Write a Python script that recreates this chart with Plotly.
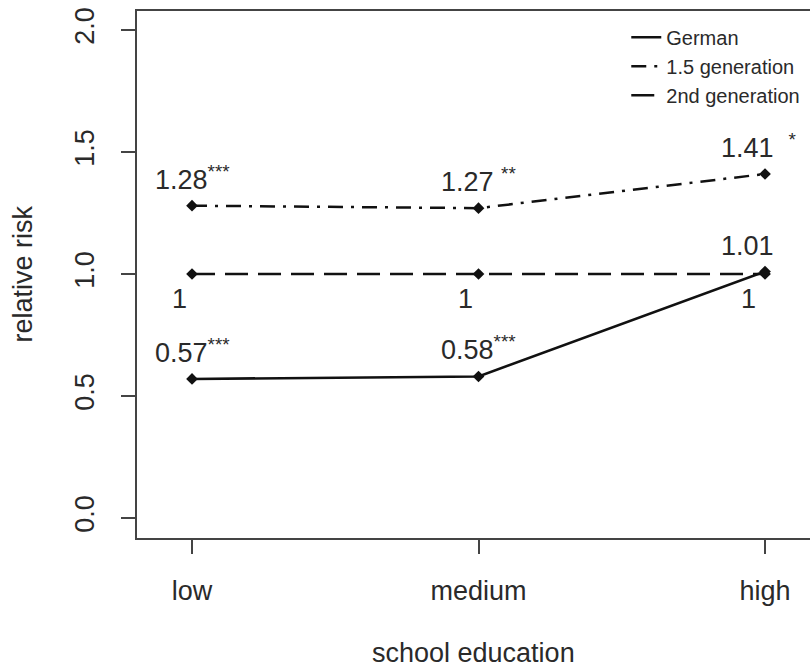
import plotly.graph_objects as go

# ---- data ----
categories = ["low", "medium", "high"]
x_pos = [1, 2, 3]
german = [0.57, 0.58, 1.01]
gen15 = [1.28, 1.27, 1.41]
gen2 = [1.0, 1.0, 1.0]
german_labels = ["0.57<sup>***</sup>", "0.58<sup>***</sup>", "1.01"]
gen15_labels = ["1.28<sup>***</sup>", "1.27 <sup>**</sup>", "1.41&nbsp;&nbsp;<sup>*</sup>"]
gen2_labels = ["1", "1", "1"]
y_ticks = [0.0, 0.5, 1.0, 1.5, 2.0]
series_names = ["German", "1.5 generation", "2nd generation"]

# ---- styles ----
FONT = "Liberation Sans, Arial, Helvetica, sans-serif"
TXT = "#2a2a2a"
AX = "#444444"
LINE = "#111111"
FS = 27
dashes = ["solid", "15px,8px,3px,8px", "23px,10px"]
label_xshift_high = {"1.01": -18, "1.41&nbsp;&nbsp;<sup>*</sup>": -6}

fig = go.Figure()
for name, vals, dash in zip(series_names, [german, gen15, gen2], dashes):
    fig.add_trace(go.Scatter(
        x=x_pos, y=vals, name=name, mode="lines",
        line=dict(color=LINE, width=2.5, dash=dash),
    ))
for name, vals in zip(series_names, [german, gen15, gen2]):
    fig.add_trace(go.Scatter(
        x=x_pos, y=vals, name=name, mode="markers", showlegend=False,
        marker=dict(symbol="diamond", size=9, color=LINE),
    ))

annotations = []
# labels above points
for vals, labels in [(german, german_labels), (gen15, gen15_labels)]:
    for xv, yv, lab in zip(x_pos, vals, labels):
        xs = label_xshift_high.get(lab, 0) if xv == 3 else 0
        annotations.append(dict(
            x=xv, y=yv, xref="x", yref="y", text=lab, showarrow=False,
            xanchor="center", yanchor="bottom", yshift=9, xshift=xs,
            font=dict(family=FONT, size=FS, color=TXT)))
# labels below points (2nd generation)
for xv, yv, lab in zip(x_pos, gen2, gen2_labels):
    annotations.append(dict(
        x=xv, y=yv, xref="x", yref="y", text=lab, showarrow=False,
        xanchor="center", yanchor="top", yshift=-8,
        xshift=(-17 if xv == 3 else -13),
        font=dict(family=FONT, size=FS, color=TXT)))
# axis titles
annotations.append(dict(
    x=0.5, y=0, xref="paper", yref="paper", text="school education",
    showarrow=False, xanchor="center", yanchor="middle", yshift=-115,
    font=dict(family=FONT, size=FS, color=TXT)))
annotations.append(dict(
    x=0, y=0.5, xref="paper", yref="paper", text="relative risk",
    showarrow=False, xanchor="center", yanchor="middle", xshift=-115,
    textangle=-90, font=dict(family=FONT, size=FS, color=TXT)))

fig.update_layout(
    width=810, height=669,
    margin=dict(l=137, r=0, t=11, b=131, autoexpand=False),
    paper_bgcolor="white", plot_bgcolor="white",
    showlegend=True,
    legend=dict(x=0.727, y=0.987, xanchor="left", yanchor="top",
                font=dict(family=FONT, size=20, color=TXT),
                bgcolor="rgba(0,0,0,0)", borderwidth=0, tracegroupgap=0),
    annotations=annotations,
    font=dict(family=FONT, color=TXT),
)
fig.update_xaxes(
    range=[0.808, 3.157], tickmode="array", tickvals=x_pos, ticktext=categories,
    ticks="outside", ticklen=14, tickwidth=1.5, tickcolor=AX,
    showline=True, linecolor=AX, linewidth=1.5, mirror=True,
    showgrid=False, zeroline=False, ticklabelstandoff=14,
    tickfont=dict(family=FONT, size=FS, color=TXT),
)
fig.update_yaxes(
    range=[-0.082, 2.078], tickmode="array", tickvals=y_ticks, tickformat=".1f",
    tickangle=-90, ticks="outside", ticklen=14, tickwidth=1.5, tickcolor=AX,
    showline=True, linecolor=AX, linewidth=1.5, mirror=False,
    showgrid=False, zeroline=False, ticklabelstandoff=16,
    tickfont=dict(family=FONT, size=FS, color=TXT),
)

fig.write_html("out.html")
